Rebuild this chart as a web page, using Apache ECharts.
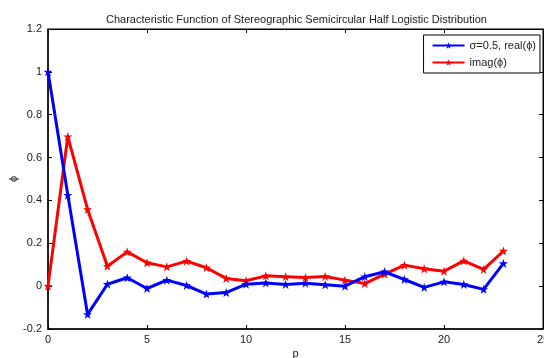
<!DOCTYPE html>
<html>
<head>
<meta charset="UTF-8">
<title>Characteristic Function</title>
<script src="https://cdn.jsdelivr.net/npm/echarts@6/dist/echarts.min.js"></script>
<style>
  html, body { margin: 0; padding: 0; background: #fff; }
  #chart { width: 544px; height: 358px; }
</style>
</head>
<body>
<div id="chart"></div>
<script>
// p values 0..23
const pValues = [0,1,2,3,4,5,6,7,8,9,10,11,12,13,14,15,16,17,18,19,20,21,22,23];
const realPhi = [1.0, 0.425, -0.132, 0.009, 0.039, -0.011, 0.028, 0.003, -0.037, -0.03, 0.009, 0.015,
  0.008, 0.014, 0.006, 0.0, 0.044, 0.067, 0.031, -0.006, 0.02, 0.008, -0.015, 0.106];
const imagPhi = [0.0, 0.698, 0.358, 0.093, 0.16, 0.109, 0.09, 0.117, 0.086, 0.036, 0.025, 0.048,
  0.044, 0.04, 0.045, 0.028, 0.012, 0.056, 0.098, 0.081, 0.07, 0.118, 0.078, 0.164];

const star = "path://M0,-10 L2.5,-3 L10,-3 L4,1.5 L6.5,9 L0,4.5 L-6.5,9 L-4,1.5 L-10,-3 L-2.5,-3 Z";
const font = "Liberation Sans, Arial, sans-serif";

const chart = echarts.init(document.getElementById("chart"));

const pairs = (ys) => pValues.map((p, i) => [p, ys[i]]);

chart.setOption({
  animation: false,
  backgroundColor: "#fff",
  title: {
    text: "Characteristic Function of Stereographic Semicircular Half Logistic Distribution",
    left: 101,
    top: 9,
    textStyle: { fontFamily: font, fontSize: 11, fontWeight: "normal", color: "#222" }
  },
  legend: {
    right: 4,
    top: 35,
    orient: "vertical",
    backgroundColor: "#fff",
    borderColor: "#000",
    borderWidth: 1,
    padding: [5, 4, 5, 8],
    itemGap: 6,
    itemWidth: 32,
    itemHeight: 8,
    textStyle: { fontFamily: font, fontSize: 11, color: "#222" },
    data: ["σ=0.5, real(ϕ)", "imag(ϕ)"]
  },
  grid: {
    left: 48, right: 1, top: 29, bottom: 29,
    outerBoundsMode: "none",
    containLabel: false,
    show: true, borderColor: "#000", borderWidth: 1
  },
  xAxis: [{
    type: "value", min: 0, max: 25, interval: 5,
    name: "p", nameLocation: "middle", nameGap: 19, nameMoveOverlap: false,
    nameTextStyle: { fontFamily: font, fontSize: 11, color: "#222" },
    axisLine: { onZero: false, lineStyle: { color: "#000", width: 1.5 } },
    axisTick: { inside: true, length: 4, lineStyle: { color: "#000" } },
    axisLabel: { fontFamily: font, fontSize: 11, color: "#222", margin: 5 },
    splitLine: { show: false }
  }, {
    type: "value", min: 0, max: 25, interval: 5, position: "top",
    axisLine: { onZero: false, lineStyle: { color: "#000" } },
    axisTick: { inside: true, length: 4, lineStyle: { color: "#000" } },
    axisLabel: { show: false },
    splitLine: { show: false }
  }],
  yAxis: [{
    type: "value", min: -0.2, max: 1.2, interval: 0.2,
    name: "ϕ", nameLocation: "middle", nameGap: 29, nameMoveOverlap: false,
    nameTextStyle: { fontFamily: font, fontSize: 11, color: "#222" },
    axisLine: { show: true, onZero: false, lineStyle: { color: "#000", width: 1.5 } },
    axisTick: { show: true, inside: true, length: 4, lineStyle: { color: "#000" } },
    axisLabel: { fontFamily: font, fontSize: 11, color: "#222", margin: 6 },
    splitLine: { show: false }
  }, {
    type: "value", min: -0.2, max: 1.2, interval: 0.2, position: "right",
    axisLine: { show: true, onZero: false, lineStyle: { color: "#000" } },
    axisTick: { show: true, inside: true, length: 4, lineStyle: { color: "#000" } },
    axisLabel: { show: false },
    splitLine: { show: false }
  }],
  series: [{
    name: "σ=0.5, real(ϕ)",
    type: "line",
    data: pairs(realPhi),
    symbol: star, symbolSize: 9,
    color: "#0000ff",
    lineStyle: { width: 3, color: "#0000ff" },
    itemStyle: { color: "#0000ff" },
    z: 3
  }, {
    name: "imag(ϕ)",
    type: "line",
    data: pairs(imagPhi),
    symbol: star, symbolSize: 9,
    color: "#ff0000",
    lineStyle: { width: 3, color: "#ff0000" },
    itemStyle: { color: "#ff0000" },
    z: 2
  }]
});
</script>
</body>
</html>
